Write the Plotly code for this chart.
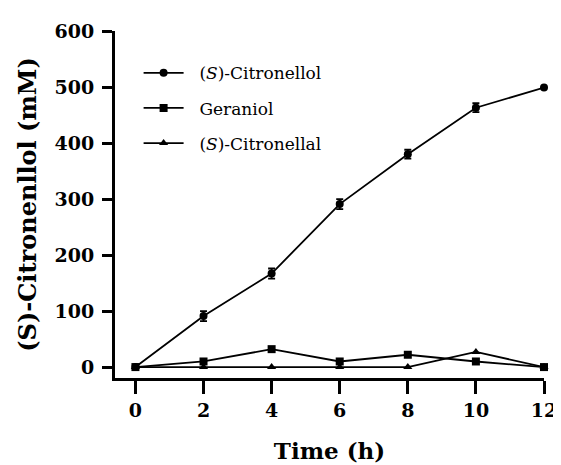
import plotly.graph_objects as go

time_h = [0, 2, 4, 6, 8, 10, 12]
citronellol = [0, 91, 167, 291, 380, 463, 499]
citronellol_err = [0, 9, 9, 9, 8, 8, 0]
geraniol = [0, 10, 32, 10, 22, 10, 0]
citronellal = [0, 0, 0, 0, 0, 27, 0]
series_names = ["(<i>S</i>)-Citronellol", "Geraniol", "(<i>S</i>)-Citronellal"]

x_ticks = [0, 2, 4, 6, 8, 10, 12]
y_ticks = [0, 100, 200, 300, 400, 500, 600]

FONT = "DejaVu Serif"
PAD = "\u00a0\u00a0"

fig = go.Figure()
fig.add_trace(go.Scatter(
    x=time_h, y=citronellol, name=PAD + series_names[0], mode="lines+markers",
    line=dict(color="black", width=1.8),
    marker=dict(symbol="circle", size=8, color="black"),
    error_y=dict(type="data", array=citronellol_err, color="black", thickness=1.8, width=3.5),
    cliponaxis=False, legendgroup="a"))
fig.add_trace(go.Scatter(
    x=time_h, y=geraniol, name=PAD + series_names[1], mode="lines+markers",
    line=dict(color="black", width=1.8),
    marker=dict(symbol="square", size=8, color="black"),
    cliponaxis=False, legendgroup="b"))
fig.add_trace(go.Scatter(
    x=time_h, y=citronellal, name=PAD + series_names[2], mode="lines+markers",
    line=dict(color="black", width=1.8),
    marker=dict(symbol="triangle-up", size=8, color="black"),
    cliponaxis=False, legendgroup="c"))

fig.update_layout(
    width=561, height=465,
    margin=dict(l=107, r=14, t=21, b=94),
    paper_bgcolor="white", plot_bgcolor="white",
    font=dict(family=FONT, color="black"),
    showlegend=True,
    legend=dict(x=0.055, y=0.93, xanchor="left", yanchor="top",
                font=dict(family=FONT, size=17, color="black"),
                bgcolor="rgba(0,0,0,0)", tracegroupgap=10, itemwidth=40),
    xaxis=dict(range=[-0.6, 12], tickvals=x_ticks, ticktext=[str(v) for v in x_ticks],
               showline=True, linecolor="black", linewidth=3,
               ticks="outside", ticklen=13, tickwidth=3, tickcolor="black",
               showgrid=False, zeroline=False,
               tickfont=dict(family=FONT, size=19, color="black", weight="bold"),
               title=dict(text="<b>Time (h)</b>", font=dict(family=FONT, size=23, color="black"), standoff=24)),
    yaxis=dict(range=[-19.5, 600], tickvals=y_ticks, ticktext=[str(v) for v in y_ticks],
               showline=True, linecolor="black", linewidth=3,
               ticks="outside", ticklen=10, tickwidth=3, tickcolor="black",
               ticklabelstandoff=4,
               showgrid=False, zeroline=False,
               tickfont=dict(family=FONT, size=19, color="black", weight="bold"),
               title=dict(text="<b>(S)-Citronenllol (mM)</b>", font=dict(family=FONT, size=24, color="black"), standoff=12)),
)

fig.write_html("out.html")
